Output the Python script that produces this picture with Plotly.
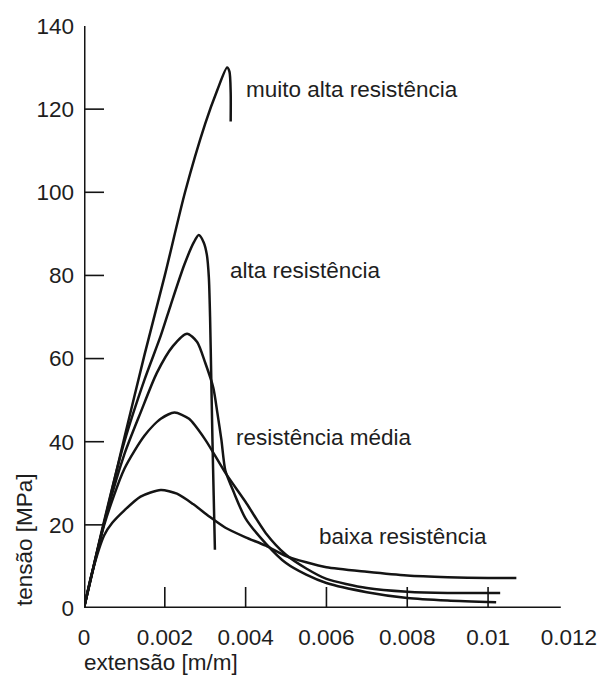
import plotly.graph_objects as go

# Stress-strain curves of concrete (tensão [MPa] vs extensão [m/m])
strain_muito_alta = [0, 0.0005, 0.001, 0.0015, 0.002, 0.0025, 0.003, 0.0033, 0.00354, 0.0036, 0.00363, 0.00363]
stress_muito_alta = [0, 20.5, 41, 61, 80, 100, 116.5, 124.6, 130, 129, 124, 117]

strain_alta = [0, 0.0005, 0.001, 0.0015, 0.0019, 0.00215, 0.00248, 0.00272, 0.00284, 0.00296,
               0.00304, 0.00309, 0.00312, 0.00315, 0.00318, 0.00321, 0.00324]
stress_alta = [0, 21, 40, 55, 65.5, 73, 82.5, 88, 89.7, 88, 85, 79.5, 70, 55, 40, 27, 14]

strain_c66 = [0, 0.0005, 0.001, 0.0014, 0.0018, 0.0022, 0.00255, 0.0028, 0.003, 0.0032, 0.0033,
              0.0034, 0.0035, 0.0037, 0.004, 0.0045, 0.005, 0.0055, 0.006, 0.007, 0.008, 0.009, 0.0102]
stress_c66 = [0, 20.5, 37, 47, 56.5, 63, 66, 64, 59, 53, 47,
              40.5, 33, 28, 21.5, 15.5, 10.8, 8, 6, 3.8, 2.4, 1.8, 1.4]

strain_media = [0, 0.0005, 0.001, 0.0015, 0.0019, 0.00224, 0.0026, 0.003, 0.0035, 0.004, 0.0045,
                0.005, 0.0055, 0.006, 0.007, 0.008, 0.009, 0.0103]
stress_media = [0, 20, 33.5, 41.5, 45.5, 47, 45.5, 40.5, 32.5, 25.5, 18,
                12.8, 9.5, 7, 4.8, 3.9, 3.6, 3.6]

strain_baixa = [0, 0.0002, 0.0005, 0.0007, 0.001, 0.0014, 0.0019, 0.0023, 0.0027, 0.0031, 0.0035,
                0.004, 0.0045, 0.005, 0.0055, 0.006, 0.007, 0.008, 0.009, 0.01, 0.0107]
stress_baixa = [0, 8.5, 17.5, 20.5, 23.5, 26.8, 28.4, 27.5, 25, 22, 19.3,
                17, 15, 12.5, 11, 9.8, 8.7, 7.8, 7.4, 7.2, 7.2]

curves = [
    (strain_muito_alta, stress_muito_alta),
    (strain_alta, stress_alta),
    (strain_c66, stress_c66),
    (strain_media, stress_media),
    (strain_baixa, stress_baixa),
]

# Curve labels: text, anchor strain, anchor stress
label_text = ["muito alta resistência", "alta resistência", "resistência média", "baixa resistência"]
label_x = [0.00402, 0.00361, 0.00375, 0.00581]
label_y = [124.8, 81.3, 41.1, 17.1]

x_tick_vals = [0, 0.002, 0.004, 0.006, 0.008, 0.01, 0.012]
x_tick_text = ["0", "0.002", "0.004", "0.006", "0.008", "0.01", "0.012"]
x_tick_marks = [0.002, 0.004, 0.006, 0.008, 0.01]
y_tick_vals = [0, 20, 40, 60, 80, 100, 120, 140]
y_tick_marks = [20, 40, 60, 80, 100, 120]

x_axis_end = 0.0118
y_axis_end = 140

INK = "#141414"
TEXT = "#1e1e1e"
FONT = "Liberation Sans, Arial, sans-serif"
FS = 22.5

fig = go.Figure()
for sx, sy in curves:
    fig.add_trace(go.Scatter(
        x=sx, y=sy, mode="lines",
        line=dict(color=INK, width=2.5, shape="spline", smoothing=0.7),
        hoverinfo="skip", showlegend=False,
    ))

for t, lx, ly in zip(label_text, label_x, label_y):
    fig.add_annotation(x=lx, y=ly, text=t, showarrow=False, xanchor="left", yanchor="middle",
                       xshift=-2, font=dict(family=FONT, size=FS, color=TEXT))

# axis lines
fig.add_shape(type="line", xref="x", yref="y", x0=0, x1=x_axis_end, y0=0, y1=0,
              line=dict(color=INK, width=3))
fig.add_shape(type="line", xref="x", yref="y", x0=0, x1=0, y0=0, y1=y_axis_end,
              line=dict(color=INK, width=3))

# inward tick marks
for tx in x_tick_marks:
    fig.add_shape(type="line", xref="x", yref="y", ysizemode="pixel", yanchor=0,
                  x0=tx, x1=tx, y0=0, y1=21, line=dict(color=INK, width=1.6))
for ty in y_tick_marks:
    fig.add_shape(type="line", xref="x", yref="y", xsizemode="pixel", xanchor=0,
                  x0=0, x1=20, y0=ty, y1=ty, line=dict(color=INK, width=1.6))

# axis titles
fig.add_annotation(xref="paper", yref="paper", x=-0.004, y=-0.094, text="extensão [m/m]",
                   showarrow=False, xanchor="left", yanchor="middle",
                   font=dict(family=FONT, size=FS, color=TEXT))
fig.add_annotation(xref="paper", yref="paper", x=-0.1186, y=0.117, text="tensão [MPa]",
                   showarrow=False, xanchor="center", yanchor="middle", textangle=-90,
                   font=dict(family=FONT, size=FS, color=TEXT))

fig.update_layout(
    width=609, height=675,
    margin=dict(l=84, r=20, t=26, b=67),
    paper_bgcolor="white", plot_bgcolor="white",
    font=dict(family=FONT, size=FS, color=TEXT),
    xaxis=dict(range=[0, 0.0123], tickvals=x_tick_vals, ticktext=x_tick_text,
               showgrid=False, zeroline=False, showline=False, ticks="",
               ticklabelstandoff=13, ticklabeloverflow="allow"),
    yaxis=dict(range=[0, 140], tickvals=y_tick_vals, showgrid=False, zeroline=False,
               showline=False, ticks="", ticklabelstandoff=9),
)

fig.write_html("out.html")
